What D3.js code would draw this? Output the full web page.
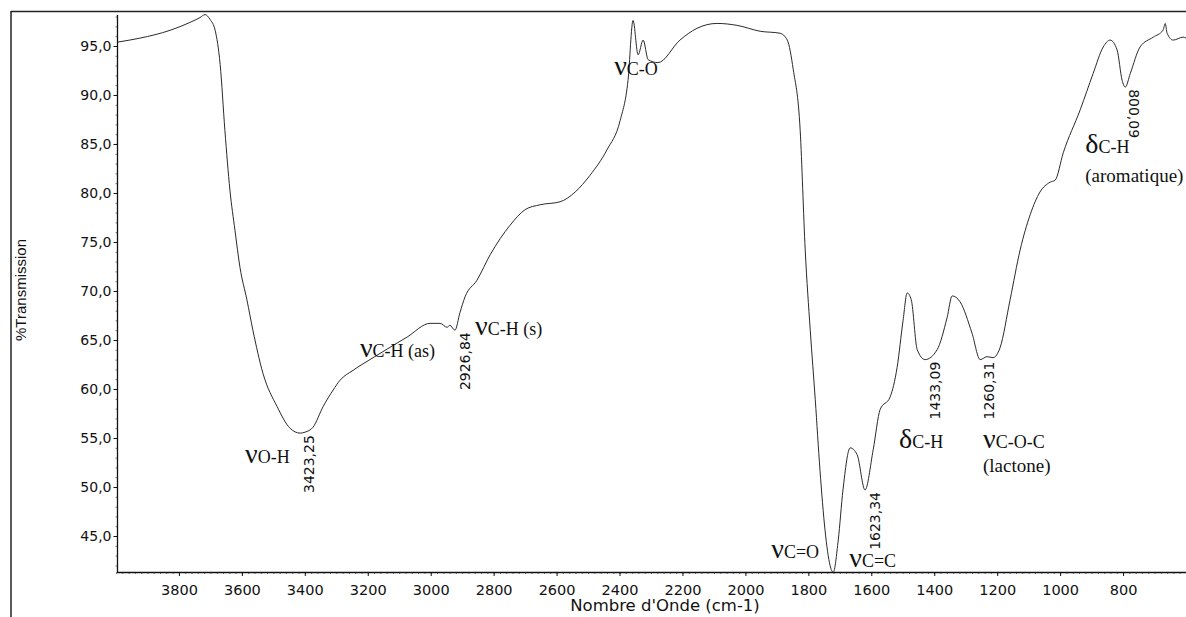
<!DOCTYPE html>
<html><head><meta charset="utf-8">
<script src="https://cdn.jsdelivr.net/npm/d3@7"></script>
<style>
html,body{margin:0;padding:0;background:#fff;}
svg{display:block;}
</style></head>
<body>
<svg id="chart" width="1186" height="617"></svg>
<script>
// ---- data ----
const wavenumber = [3994,3924,3828,3765,3733,3717,3701,3685,3669,3654,3638,3622,3606,3584,3565,3533,3488,3447,3415,3399,3374,3342,3310,3288,3247,3183,3075,3002,2970,2948,2939,2923,2907,2891,2853,2811,2748,2700,2652,2589,2541,2494,2440,2398,2373,2357,2341,2325,2309,2278,2208,2154,2090,2026,1953,1890,1867,1848,1826,1810,1794,1778,1763,1747,1731,1721,1705,1690,1667,1645,1620,1594,1572,1540,1518,1499,1486,1473,1454,1429,1391,1359,1343,1318,1280,1254,1232,1213,1191,1159,1127,1095,1064,1032,1016,990,936,895,863,841,819,803,793,777,746,704,673,666,660,641,609,600];
const transmission = [95.4,95.8,96.6,97.4,97.9,98.2,97.7,96.6,93.1,86.4,80.3,76.2,72.4,69.1,66.0,61.6,58.2,56.0,55.5,55.6,56.1,58.2,59.9,60.9,61.9,63.2,65.3,66.7,66.7,66.3,66.5,66.0,67.8,69.4,71.1,73.7,76.7,78.3,78.8,79.1,80.1,81.8,84.4,87.4,91.5,97.6,94.1,95.6,93.6,93.3,95.6,96.8,97.3,97.1,96.5,96.3,95.6,92.6,86.4,74.2,66.0,58.9,51.7,45.6,42.0,41.3,44.6,49.7,54.0,53.3,49.7,53.8,57.9,59.2,62.2,67.0,69.8,69.1,64.0,63.0,64.0,67.3,69.5,68.9,65.7,63.0,63.3,63.2,64.2,69.1,74.2,77.8,80.1,81.1,81.3,84.1,88.5,92.2,94.9,95.6,94.6,91.5,90.8,92.2,94.9,95.9,96.6,97.3,96.3,95.6,95.9,95.8];

const xTickValues = [3800,3600,3400,3200,3000,2800,2600,2400,2200,2000,1800,1600,1400,1200,1000,800];
const yTickValues = [45,50,55,60,65,70,75,80,85,90,95];

// peak labels: wavenumber text, anchored at the band minimum
const peakWn    = [3423.25, 2926.84, 1623.34, 1433.09, 1260.31, 800.09];
const peakT     = [55.5, 66.0, 49.7, 63.0, 63.0, 90.8];
const peakText  = ["3423,25","2926,84","1623,34","1433,09","1260,31","800,09"];
const peakFlip  = [false,false,false,false,false,true];

// band assignments (symbol, subscript, optional second line) anchored in data coords
const bandSym   = ["ν","ν","ν","ν","ν","ν","δ","ν","δ"];
const bandSub   = ["O-H","C-H (as)","C-H (s)","C-O","C=O","C=C","C-H","C-O-C","C-H"];
const bandNote  = ["","","","","","","","(lactone)","(aromatique)"];
const bandWn    = [3590,3225,2859,2417,1918,1670,1512,1245,920];
const bandT     = [52.45,63.27,65.5,92.0,42.76,41.84,53.98,53.98,84.08];
const noteT     = [0,0,0,0,0,0,0,51.53,81.12];

// ---- drawing ----
const svg = d3.select("#chart");
const x = d3.scaleLinear().domain([4000, 600]).range([116, 1186]);
const y = d3.scaleLinear().domain([41.33, 98.16]).range([572, 15]);

// outer frame (left & top)
svg.append("line").attr("x1",11).attr("x2",11).attr("y1",11).attr("y2",617).attr("stroke","#222").attr("stroke-width",1.5);
svg.append("line").attr("x1",11).attr("x2",1186).attr("y1",11.5).attr("y2",11.5).attr("stroke","#222").attr("stroke-width",1.5);

const sans = "'DejaVu Sans', Verdana, sans-serif";
const serif = "'Liberation Serif', 'Times New Roman', serif";

// minor ticks
const xMinor = d3.range(600, 4001, 20);
svg.append("g").attr("transform","translate(0,572)")
  .call(d3.axisBottom(x).tickValues(xMinor).tickSize(2).tickFormat(""))
  .call(g=>g.select(".domain").remove())
  .selectAll("line").attr("stroke","#444").attr("stroke-width",0.7);
const yMinor = d3.range(42, 98.1, 1);
svg.append("g").attr("transform","translate(117.5,0)")
  .call(d3.axisLeft(y).tickValues(yMinor).tickSize(2).tickFormat(""))
  .call(g=>g.select(".domain").remove())
  .selectAll("line").attr("stroke","#444").attr("stroke-width",0.7);

// major axes
const xAxis = svg.append("g").attr("transform","translate(0,572)")
  .call(d3.axisBottom(x).tickValues(xTickValues).tickSize(4).tickPadding(9).tickSizeOuter(0)
    .tickFormat(d3.format("d")));
xAxis.select(".domain").attr("stroke","#111").attr("stroke-width",1.3).attr("d","M117,0.5H1186");
xAxis.selectAll("text").attr("font-family",sans).attr("font-size","14.5px").attr("fill","#111");
xAxis.selectAll("line").attr("stroke","#111");

const yAxis = svg.append("g").attr("transform","translate(117.5,0)")
  .call(d3.axisLeft(y).tickValues(yTickValues).tickSize(4).tickPadding(2).tickSizeOuter(0)
    .tickFormat(d=>d3.format(".1f")(d).replace(".",",")));
yAxis.select(".domain").attr("stroke","#111").attr("stroke-width",1.3).attr("d","M0,15V572");
yAxis.selectAll("text").attr("font-family",sans).attr("font-size","14px").attr("fill","#111");
yAxis.selectAll("line").attr("stroke","#111");

// axis titles
svg.append("text").attr("transform","translate(26,290) rotate(-90)").attr("text-anchor","middle")
  .attr("font-family","'Liberation Sans', Arial, sans-serif").attr("font-size","15px").attr("fill","#111").text("%Transmission");
svg.append("text").attr("x",665).attr("y",611).attr("text-anchor","middle")
  .attr("font-family",sans).attr("font-size","16.5px").attr("fill","#111").text("Nombre d'Onde (cm-1)");

// spectrum
const pts = wavenumber.map((w,i)=>[w, transmission[i]]);
svg.append("path").datum(pts)
  .attr("fill","none").attr("stroke","#2a2a2a").attr("stroke-width",1)
  .attr("d", d3.line().x(d=>x(d[0])).y(d=>y(d[1])).curve(d3.curveMonotoneX));

// peak labels
peakWn.forEach((w,i)=>{
  const px = x(w)+11, py = y(peakT[i])+2;
  svg.append("text")
    .attr("transform",`translate(${px},${py}) rotate(${peakFlip[i]?90:-90})`)
    .attr("text-anchor", peakFlip[i] ? "start" : "end")
    .attr("dy","0.36em")
    .attr("font-family",sans).attr("font-size","14px").attr("fill","#111")
    .text(peakText[i]);
});

// band assignment labels
bandSym.forEach((s,i)=>{
  const t = svg.append("text").attr("x",x(bandWn[i])).attr("y",y(bandT[i]))
    .attr("font-family",serif).attr("fill","#111");
  t.append("tspan").attr("font-size","28px").text(s);
  t.append("tspan").attr("font-size","18px").text(bandSub[i]);
  if (bandNote[i]) {
    svg.append("text").attr("x",x(bandWn[i])).attr("y",y(noteT[i]))
      .attr("font-family",serif).attr("font-size","19px").attr("fill","#111").text(bandNote[i]);
  }
});
</script>
</body></html>
